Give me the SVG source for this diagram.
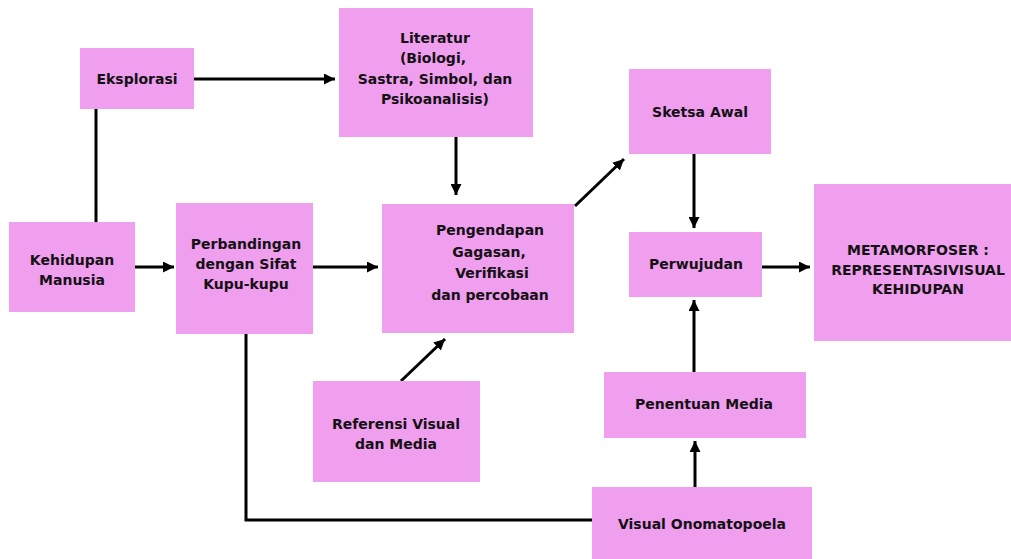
<svg xmlns="http://www.w3.org/2000/svg" width="1011" height="559" viewBox="0 0 1011 559">
<style>
.box{fill:#F09FEF;}
.t{font-family:"DejaVu Sans","Verdana",sans-serif;font-weight:bold;font-size:14px;fill:#141014;text-anchor:middle;}
.c{stroke:#000;stroke-width:3;fill:none;}
</style>
<defs>
<marker id="ah" markerUnits="userSpaceOnUse" markerWidth="12" markerHeight="11" viewBox="0 0 12 11" refX="11" refY="5.5" orient="auto">
<path d="M0,0 L11,5.5 L0,11 Z" fill="#000"/>
</marker>
</defs>
<rect width="1011" height="559" fill="#fff"/>
<g id="connectors">
<line class="c" x1="96" y1="109" x2="96" y2="222"/>
<line class="c" x1="194" y1="79" x2="335" y2="79" marker-end="url(#ah)"/>
<line class="c" x1="135" y1="267" x2="174" y2="267" marker-end="url(#ah)"/>
<line class="c" x1="456" y1="137" x2="456" y2="195" marker-end="url(#ah)"/>
<line class="c" x1="313" y1="267" x2="378" y2="267" marker-end="url(#ah)"/>
<line class="c" x1="575" y1="206" x2="624" y2="159" marker-end="url(#ah)"/>
<line class="c" x1="694" y1="154" x2="694" y2="228" marker-end="url(#ah)"/>
<line class="c" x1="762" y1="267" x2="810" y2="267" marker-end="url(#ah)"/>
<line class="c" x1="694" y1="372" x2="694" y2="300" marker-end="url(#ah)"/>
<line class="c" x1="401" y1="381" x2="445" y2="339" marker-end="url(#ah)"/>
<line class="c" x1="695" y1="487" x2="695" y2="441" marker-end="url(#ah)"/>
<polyline class="c" points="246,334 246,520 592,520"/>
</g>
<g id="eksplorasi">
<rect class="box" x="80" y="48" width="114" height="61"/>
<text class="t" x="137" y="84">Eksplorasi</text>
</g>
<g id="kehidupan">
<rect class="box" x="9" y="222" width="126" height="90"/>
<text class="t" x="72" y="265">Kehidupan</text>
<text class="t" x="72" y="285">Manusia</text>
</g>
<g id="perbandingan">
<rect class="box" x="176" y="203" width="137" height="131"/>
<text class="t" x="246" y="249">Perbandingan</text>
<text class="t" x="246" y="269">dengan Sifat</text>
<text class="t" x="246" y="289">Kupu-kupu</text>
</g>
<g id="literatur">
<rect class="box" x="339" y="8" width="194" height="129"/>
<text class="t" x="435" y="43">Literatur</text>
<text class="t" x="433" y="63">(Biologi,</text>
<text class="t" x="435" y="84">Sastra, Simbol, dan</text>
<text class="t" x="435" y="104">Psikoanalisis)</text>
</g>
<g id="pengendapan">
<rect class="box" x="382" y="204" width="192" height="129"/>
<text class="t" x="490" y="235">Pengendapan</text>
<text class="t" x="489" y="257">Gagasan,</text>
<text class="t" x="492" y="278">Verifikasi</text>
<text class="t" x="490" y="300">dan percobaan</text>
</g>
<g id="sketsa">
<rect class="box" x="629" y="69" width="142" height="85"/>
<text class="t" x="700" y="117">Sketsa Awal</text>
</g>
<g id="perwujudan">
<rect class="box" x="629" y="232" width="133" height="65"/>
<text class="t" x="696" y="269">Perwujudan</text>
</g>
<g id="metamorfoser">
<rect class="box" x="814" y="184" width="197" height="157"/>
<text class="t" x="918" y="255">METAMORFOSER :</text>
<text class="t" x="918" y="275">REPRESENTASIVISUAL</text>
<text class="t" x="918" y="294">KEHIDUPAN</text>
</g>
<g id="referensi">
<rect class="box" x="313" y="381" width="167" height="101"/>
<text class="t" x="396" y="429">Referensi Visual</text>
<text class="t" x="396" y="449">dan Media</text>
</g>
<g id="penentuan">
<rect class="box" x="604" y="372" width="202" height="66"/>
<text class="t" x="704" y="409">Penentuan Media</text>
</g>
<g id="onomatopoela">
<rect class="box" x="592" y="487" width="220" height="72"/>
<text class="t" x="702" y="529">Visual Onomatopoela</text>
</g>
</svg>
